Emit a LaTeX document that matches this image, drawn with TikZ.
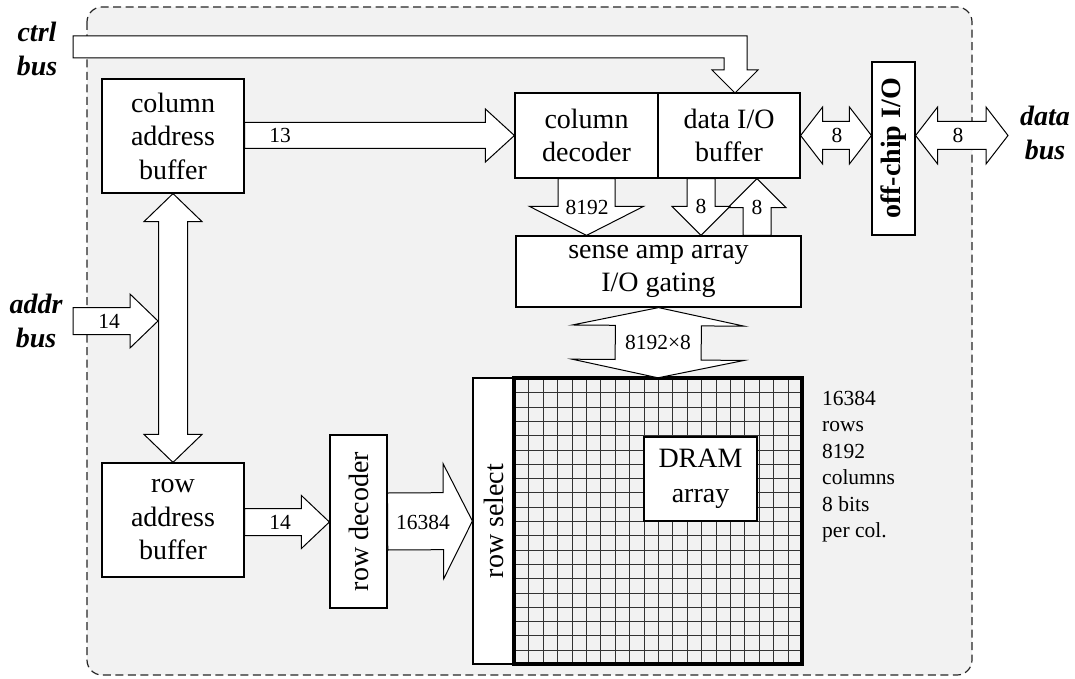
\documentclass[tikz,border=0pt]{standalone}
\usepackage{fontspec}
\setmainfont{Liberation Serif}
\usetikzlibrary{calc}
\definecolor{bgray}{HTML}{F2F2F2}
\tikzset{
  fbw/.store in=\fbw, fhw/.store in=\fhw, fhl/.store in=\fhl,
  fbw=14pt, fhw=28pt, fhl=28pt,
  fat/.style={draw=black, fill=white, line width=1pt, line join=miter, to path={
    let \p1=(\tikztostart), \p2=(\tikztotarget), \p3=($(\p2)!\fhl!(\p1)$) in
    ($(\p1)!\fbw!90:(\p2)$) -- ($(\p3)!\fbw!-90:(\p1)$) -- ($(\p3)!\fhw!-90:(\p1)$) -- (\p2)
    -- ($(\p3)!\fhw!90:(\p1)$) -- ($(\p3)!\fbw!90:(\p1)$) -- ($(\p1)!\fbw!-90:(\p2)$) -- cycle}},
  dfat/.style={draw=black, fill=white, line width=1pt, line join=miter, to path={
    let \p1=(\tikztostart), \p2=(\tikztotarget), \p3=($(\p2)!\fhl!(\p1)$), \p4=($(\p1)!\fhl!(\p2)$) in
    (\p1) -- ($(\p4)!\fhw!90:(\p2)$) -- ($(\p4)!\fbw!90:(\p2)$) -- ($(\p3)!\fbw!-90:(\p1)$)
    -- ($(\p3)!\fhw!-90:(\p1)$) -- (\p2) -- ($(\p3)!\fhw!90:(\p1)$) -- ($(\p3)!\fbw!90:(\p1)$)
    -- ($(\p4)!\fbw!-90:(\p2)$) -- ($(\p4)!\fhw!-90:(\p2)$) -- cycle}},
  box/.style={draw, fill=white, line width=1.2pt, inner sep=0pt, align=center,
    font=\fontsize{28}{33.5}\selectfont},
  lbl/.style={font=\fontsize{21.5}{26.5}\selectfont, inner sep=0pt},
  busname/.style={font=\fontsize{28}{34}\selectfont\bfseries\itshape, align=center, inner sep=0pt},
  gridline/.style={draw=black!80, line width=1pt},
}
\begin{document}
\begin{tikzpicture}[x=1pt,y=-1pt]
\useasboundingbox (0,0) rectangle (1075,679);
% chip outline
\draw[fill=bgray, draw=black!85, line width=1.2pt, dash pattern=on 8pt off 4.5pt, rounded corners=15pt]
  (87,7) rectangle (972,675);

% bus names
\node[busname] (ctrlbus) at (37,49) {ctrl\\bus};
\node[busname] (addrbus) at (36,320.5) {addr\\bus};
\node[busname] (databus) at (1045,132.5) {data\\bus};

% boxes
\node[box, minimum width=142pt, minimum height=114pt] (colbuf) at (173,136) {column\\address\\buffer};
\node[box, minimum width=142pt, minimum height=114pt] (rowbuf) at (173,520) {row\\address\\buffer};
\node[box, minimum width=143pt, minimum height=85pt] (coldec) at (586.5,135.5) {column\\decoder};
\node[box, minimum width=142pt, minimum height=85pt] (dataio) at (729,135.5) {data I/O\\buffer};
\node[box, minimum width=43pt, minimum height=173pt] (offchip) at (893.5,148.5) {};
\node[font=\fontsize{28}{33.5}\selectfont\bfseries, rotate=90, inner sep=0pt] at (offchip.center) {off-chip I/O};
\node[box, minimum width=285pt, minimum height=71pt] (sense) at (658.5,271.5) {sense amp array\\I/O gating};
\node[box, minimum width=57pt, minimum height=173pt] (rowdec) at (358.5,521.5) {};
\node[font=\fontsize{28}{33.5}\selectfont, rotate=90, inner sep=0pt] at (rowdec.center) {row decoder};
\node[box, minimum width=41pt, minimum height=286pt] (rowsel) at (493.5,521) {};
\node[font=\fontsize{28}{33.5}\selectfont, rotate=90, inner sep=0pt] at (rowsel.center) {row select};

% DRAM grid
\node[fill=bgray, minimum width=288pt, minimum height=286pt, inner sep=0pt] (grid) at (658,521) {};
\foreach \i in {1,...,19}{
  \pgfmathsetmacro\gx{round(\i*14.4)+0.5}
  \pgfmathsetmacro\gy{round(\i*14.3)+0.5}
  \draw[gridline] ($(grid.north west)+(\gx,0)$) -- ($(grid.south west)+(\gx,0)$);
  \draw[gridline] ($(grid.north west)+(0,\gy)$) -- ($(grid.north east)+(0,\gy)$);
}
\draw[line width=4pt] (grid.north west) rectangle (grid.south east);
\node[box, minimum width=113pt, minimum height=84pt, font=\fontsize{28}{35}\selectfont] (dram) at (700.5,479) {DRAM\\array};

% side text
\node[lbl, align=left, anchor=north west] (spec) at (822,390.5) {16384\\rows\\8192\\columns\\8 bits\\per col.};

% ctrl bus arrow
\coordinate (ctrlin) at (73,47);
\coordinate (ctrltip) at (735,93);
\draw[fill=white, line width=1pt, line join=miter]
  (ctrlin |- 0,36) -- (747,36) -- (747,70) -- (758,70) -- (ctrltip) -- (712,70) -- (724,70) -- (724,58) -- (ctrlin |- 0,58) -- cycle;

% column address -> column decoder
\draw[fat, fbw=13pt, fhw=26.5pt, fhl=29pt] (colbuf.east |- coldec.west) to (coldec.west);
\node[lbl] (l13) at (280,135) {13};

% data I/O <-> off-chip
\draw[dfat, fbw=14pt, fhw=28.5pt, fhl=22pt] (dataio.east) to (offchip.west |- dataio.east);
\node[lbl] (l8a) at (837,135.5) {8};
\coordinate (dataout) at (1008,135.5);
\draw[dfat, fbw=14pt, fhw=28.5pt, fhl=22pt] (offchip.east |- dataout) to (dataout);
\node[lbl] (l8b) at (958,135.5) {8};

% column decoder -> sense amp
\draw[fat, fbw=28.5pt, fhw=57pt, fhl=29pt] (coldec.south) to (coldec.south |- sense.north);
\node[lbl] (l8192) at (587,207) {8192};
% data I/O <-> sense amp
\coordinate (dnx) at (701,0);
\coordinate (upx) at (757,0);
\draw[fat, fbw=14pt, fhw=29pt, fhl=29pt] (upx |- sense.north) to (upx |- dataio.south);
\draw[fat, fbw=14pt, fhw=29pt, fhl=29pt] (dnx |- dataio.south) to (dnx |- sense.north);
\node[lbl] (l8c) at (701,206) {8};
\node[lbl] (l8d) at (757,207) {8};

% sense amp <-> array
\draw[dfat, fbw=43pt, fhw=86pt, fhl=18pt] (sense.south) to (grid.north);
\node[lbl] (l8192x8) at (658,342) {8192×8};

% address buffers
\draw[dfat, fbw=14.5pt, fhw=29pt, fhl=28pt] (colbuf.south) to (rowbuf.north);
\coordinate (addrin) at (73,321);
\draw[fat, fbw=13.5pt, fhw=27pt, fhl=28pt] (addrin) to (158,321);
\node[lbl] (l14a) at (109,321) {14};

% row address -> row decoder
\coordinate (r14) at (0,522);
\draw[fat, fbw=13.5pt, fhw=26.5pt, fhl=28pt] (rowbuf.east |- r14) to (rowdec.west |- r14);
\node[lbl] (l14b) at (280,522) {14};

% row decoder -> row select
\draw[fat, fbw=28.5pt, fhw=57.5pt, fhl=29pt] (rowdec.east) to (rowsel.west);
\node[lbl] (l16384) at (423,522) {16384};
\end{tikzpicture}
\end{document}
